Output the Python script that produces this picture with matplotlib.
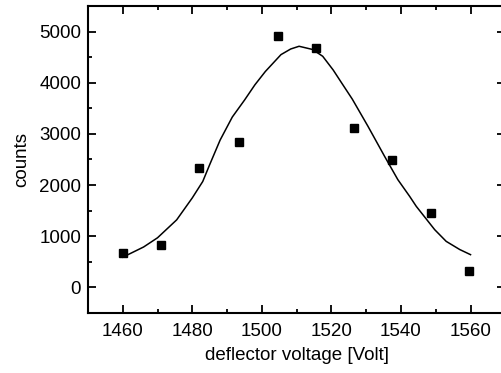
import numpy as np
import matplotlib.pyplot as plt
from matplotlib.ticker import MultipleLocator

plt.rcParams['font.family'] = ['Liberation Sans', 'DejaVu Sans']

# measured counts vs deflector voltage
voltage = [1460, 1471, 1482, 1493.5, 1504.5, 1515.5, 1526.5, 1537.5, 1548.5, 1559.5]
counts = [680, 820, 2340, 2850, 4910, 4670, 3110, 2490, 1460, 330]

# fitted curve
fit_voltage = [1460, 1466, 1470, 1475.5, 1480, 1483, 1485, 1488, 1491.5, 1495,
               1498, 1501, 1505.5, 1508.3, 1510.7, 1514.6, 1517.5, 1520.5,
               1523, 1526, 1530.5, 1535.3, 1539.1, 1542.5, 1544.4, 1549.7,
               1553, 1556.9, 1560]
fit_counts = [590, 790, 970, 1320, 1750, 2070, 2400, 2880, 3330, 3660,
              3960, 4220, 4550, 4660, 4713, 4650, 4517, 4250,
              3990, 3680, 3150, 2560, 2106, 1779, 1584, 1128,
              900, 740, 640]

fig = plt.figure(figsize=(5.01, 3.73), dpi=100)
ax = fig.add_axes([0.1756, 0.1609, 0.833, 0.823])

ax.plot(fit_voltage, fit_counts, color='black', lw=1.1)
ax.plot(voltage, counts, 's', color='black', ms=5.2, mec='black')

ax.set_xlim(1450, 1570)
ax.set_ylim(-500, 5500)
ax.xaxis.set_major_locator(MultipleLocator(20))
ax.xaxis.set_minor_locator(MultipleLocator(10))
ax.yaxis.set_major_locator(MultipleLocator(1000))
ax.yaxis.set_minor_locator(MultipleLocator(500))

ax.tick_params(which='both', direction='in', top=True, right=True,
               width=1.3, labelsize=13.5)
ax.tick_params(which='major', length=6)
ax.tick_params(which='minor', length=3)
ax.tick_params(axis='x', pad=7)
ax.tick_params(axis='y', pad=5)
for s in ax.spines.values():
    s.set_linewidth(1.5)

ax.set_xlabel('deflector voltage [Volt]', fontsize=13.5, labelpad=5)
ax.set_ylabel('counts', fontsize=13.5, labelpad=6)

fig.savefig('out.png', dpi=100)
